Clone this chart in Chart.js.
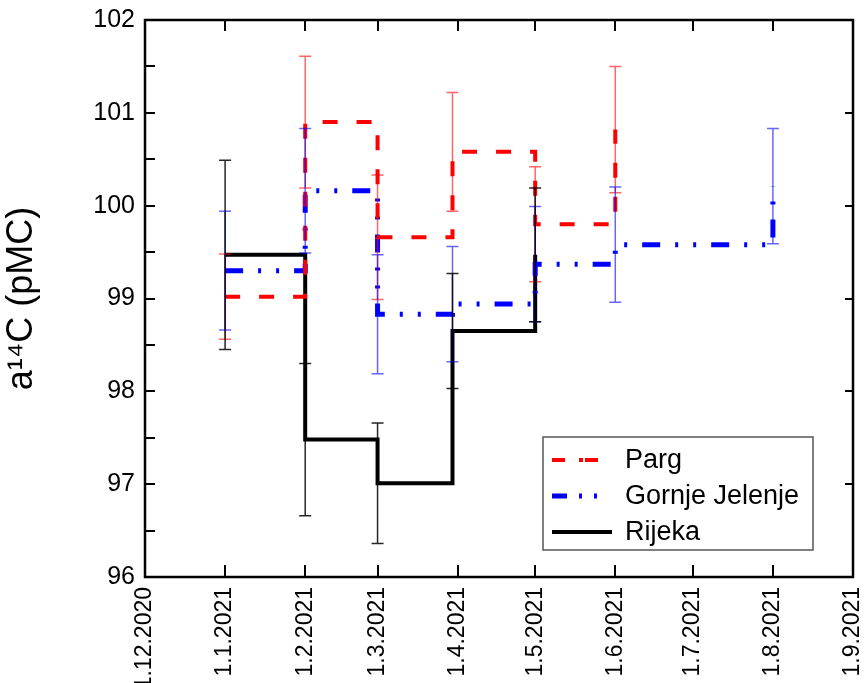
<!DOCTYPE html>
<html>
<head>
<meta charset="utf-8">
<script src="https://cdn.jsdelivr.net/npm/chart.js@4"></script>
<style>
  html, body { margin: 0; padding: 0; background: #fff; }
  #wrap { width: 865px; height: 683px; }
</style>
</head>
<body>
<div id="wrap"><canvas id="myChart" width="865" height="683"></canvas></div>
<script>
// Datumi uzorkovanja (d.m.yyyy)
const sampleDates = ["1.1.2021", "1.2.2021", "1.3.2021", "30.3.2021", "1.5.2021", "1.6.2021", "1.8.2021"];

// Vrijednosti a14C (pMC) i greske
const parg = [99.02, 100.90, 99.66, 100.58, 99.80, 100.82, null];
const pargErr = [0.46, 0.71, 0.67, 0.64, 0.62, 0.68, null];
const gornje = [99.30, 100.16, 98.83, 98.94, 99.37, 99.58, 100.21];
const gornjeErr = [0.64, 0.67, 0.64, 0.62, 0.62, 0.62, 0.62];
const rijeka = [99.47, 97.48, 97.01, 98.65, 99.47, null, null];
const rijekaErr = [1.02, 0.82, 0.65, 0.62, 0.72, null, null];

// Oznake na x osi
const tickLabels = ["1.12.2020", "1.1.2021", "1.2.2021", "1.3.2021", "1.4.2021", "1.5.2021",
  "1.6.2021", "1.7.2021", "1.8.2021", "1.9.2021"];
const yMin = 96, yMax = 102;

// Broj dana od 1.12.2020
function dayOf(s) {
  const p = s.split(".").map(Number);
  return (Date.UTC(p[2], p[1] - 1, p[0]) - Date.UTC(2020, 11, 1)) / 86400000;
}

function toPoints(values) {
  let pts = [];
  values.forEach((v, i) => {
    if (v !== null) pts.push({ x: dayOf(sampleDates[i]), y: v });
  });
  return pts;
}

const series = [
  { label: "Parg", values: parg, err: pargErr, color: "#ff0000", errColor: "rgba(255,0,0,0.6)", width: 4, dash: [15, 19] },
  { label: "Gornje Jelenje", values: gornje, err: gornjeErr, color: "#0000ff", errColor: "rgba(0,0,255,0.6)", width: 5, dash: [18, 15, 3, 15, 3, 15] },
  { label: "Rijeka", values: rijeka, err: rijekaErr, color: "#000000", errColor: "rgba(0,0,0,0.85)", width: 4, dash: [] },
];

// Okvir, unutarnje crtice, greske i legenda
const framePlugin = {
  id: "frame",
  afterDatasetsDraw(chart) {
    const ctx = chart.ctx;
    const a = chart.chartArea;
    const xs = chart.scales.x, ys = chart.scales.y;
    ctx.save();

    // error bars
    series.forEach((s) => {
      ctx.strokeStyle = s.errColor;
      ctx.lineWidth = 1.5;
      s.values.forEach((v, i) => {
        if (v === null) return;
        const px = xs.getPixelForValue(dayOf(sampleDates[i]));
        const top = ys.getPixelForValue(v + s.err[i]);
        const bot = ys.getPixelForValue(v - s.err[i]);
        ctx.beginPath();
        ctx.moveTo(px, top); ctx.lineTo(px, bot);
        ctx.moveTo(px - 6, top); ctx.lineTo(px + 6, top);
        ctx.moveTo(px - 6, bot); ctx.lineTo(px + 6, bot);
        ctx.stroke();
      });
    });

    // ticks inside
    ctx.strokeStyle = "#000";
    ctx.lineWidth = 2;
    ctx.beginPath();
    xs.ticks.forEach((t) => {
      const px = Math.round(xs.getPixelForValue(t.value));
      ctx.moveTo(px, a.bottom); ctx.lineTo(px, a.bottom - 12);
      ctx.moveTo(px, a.top); ctx.lineTo(px, a.top + 11);
    });
    ys.ticks.forEach((t) => {
      const py = Math.round(ys.getPixelForValue(t.value));
      ctx.moveTo(a.left, py); ctx.lineTo(a.left + 10, py);
      if (Number.isInteger(t.value)) {
        ctx.moveTo(a.right, py); ctx.lineTo(a.right - 8, py);
      }
    });
    ctx.stroke();

    // frame
    ctx.lineWidth = 2.5;
    ctx.strokeRect(a.left, a.top, a.right - a.left, a.bottom - a.top);

    // legend
    const bx = 543, by = 437, bw = 270, bh = 113;
    ctx.fillStyle = "#fff";
    ctx.fillRect(bx, by, bw, bh);
    ctx.strokeStyle = "#555";
    ctx.lineWidth = 1.5;
    ctx.strokeRect(bx, by, bw, bh);
    ctx.font = "27px 'Liberation Sans', Arial, sans-serif";
    ctx.textBaseline = "middle";
    ctx.textAlign = "left";
    series.forEach((s, i) => {
      const ly = by + 23 + i * 36;
      ctx.strokeStyle = s.color;
      ctx.lineWidth = s.width;
      ctx.setLineDash(s.dash.length ? (i === 0 ? [13, 14, 4, 2] : [15, 12, 3, 12, 3]) : []);
      ctx.beginPath();
      ctx.moveTo(bx + 9, ly); ctx.lineTo(bx + 69, ly);
      ctx.stroke();
      ctx.setLineDash([]);
      ctx.fillStyle = "#000";
      ctx.fillText(s.label, bx + 82, ly + 1);
    });
    ctx.restore();
  },
};

const ctx = document.getElementById("myChart").getContext("2d");
new Chart(ctx, {
  type: "line",
  data: {
    datasets: series.map((s) => ({
      label: s.label,
      data: toPoints(s.values),
      borderColor: s.color,
      backgroundColor: s.color,
      borderWidth: s.width,
      borderDash: s.dash,
      stepped: true,
      pointRadius: 0,
      fill: false,
    })),
  },
  options: {
    responsive: false,
    animation: false,
    layout: { padding: { top: 20, right: 12, left: 0, bottom: 0 } },
    plugins: { legend: { display: false }, tooltip: { enabled: false } },
    scales: {
      x: {
        type: "linear",
        min: dayOf(tickLabels[0]),
        max: dayOf(tickLabels[tickLabels.length - 1]),
        afterBuildTicks: (scale) => {
          scale.ticks = tickLabels.map((s) => ({ value: dayOf(s) }));
        },
        afterFit: (scale) => {
          scale.height = 106;
          scale.paddingLeft = 0;
          scale.paddingRight = 0;
        },
        grid: { display: false, drawTicks: false },
        border: { display: false },
        ticks: {
          autoSkip: false,
          minRotation: 90,
          maxRotation: 90,
          padding: 10,
          color: "#000",
          font: { family: "'Liberation Sans', Arial, sans-serif", size: 23 },
          callback: (v) => {
            const i = tickLabels.findIndex((s) => dayOf(s) === v);
            return i >= 0 ? tickLabels[i] : "";
          },
        },
      },
      y: {
        min: yMin,
        max: yMax,
        afterFit: (scale) => {
          scale.width = 145;
          scale.paddingTop = 0;
          scale.paddingBottom = 0;
        },
        grid: { display: false, drawTicks: false },
        border: { display: false },
        title: {
          display: true,
          text: "a\u00B9\u2074C (pMC)",
          color: "#000",
          font: { family: "'Liberation Sans', Arial, sans-serif", size: 36 },
          padding: { top: 0, bottom: 0 },
        },
        ticks: {
          stepSize: 0.5,
          padding: 10,
          color: "#000",
          font: { family: "'Liberation Sans', Arial, sans-serif", size: 25 },
          callback: (v) => (Number.isInteger(v) ? String(v) : ""),
        },
      },
    },
  },
  plugins: [framePlugin],
});
</script>
</body>
</html>
